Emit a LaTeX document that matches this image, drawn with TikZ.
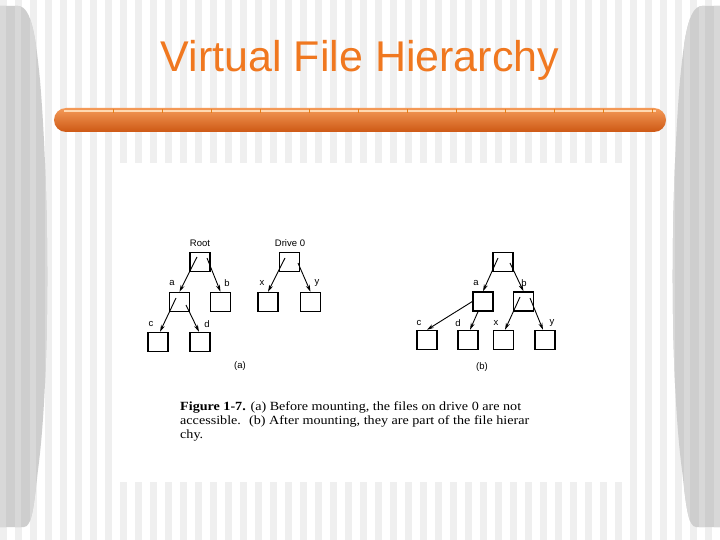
\documentclass[tikz,border=0pt]{standalone}
\usepackage{fontspec}
\setmainfont{Liberation Serif}
\newfontfamily\arialfont{Liberation Sans}
\newfontfamily\capfont[FakeStretch=1.13]{Liberation Serif}
\usepackage{xcolor}
\usepackage{tikz}
\usetikzlibrary{arrows.meta}
\definecolor{slideorange}{RGB}{240,120,32}
\definecolor{stripegray}{RGB}{239,239,239}
\definecolor{bargray}{RGB}{206,206,206}
\definecolor{barlight}{RGB}{216,216,216}
\newcommand{\sidebarpath}{(0,6) -- (18,6) .. controls (32,6) and (36,40) .. (40,80) .. controls (50,200) and (50,380) .. (38,470) .. controls (34,505) and (32,527) .. (24,527) -- (0,527) -- cycle}

\begin{document}
\begin{tikzpicture}[x=1pt, y=-1pt,
    dirbox/.style={draw, line width=1.4pt, minimum width=20pt, minimum height=19pt, inner sep=0pt},
    lbl/.style={font=\arialfont\fontsize{9.5}{10}\selectfont, inner sep=0pt},
    captxt/.style={anchor=base west, inner sep=0pt, font=\capfont\fontsize{12.5}{14}\selectfont},
    ptr/.style={-{Stealth[length=7pt,width=4pt]}, line width=0.9pt}]
    \useasboundingbox (0,0) rectangle (720,540);
    \fill[white] (0,0) rectangle (720,540);
    \foreach \s in {0,...,47}
        \fill[stripegray] (15*\s,0) rectangle (15*\s+7,540);
    \fill[white] (112,163) rectangle (623,482);
    % side bars
    \foreach \sx/\side in {0/1,720/-1} {
        \begin{scope}[shift={(\sx,0)}, xscale=\side]
            \fill[bargray] \sidebarpath;
            \clip \sidebarpath;
            \foreach \s in {0,1,2,3}
                \fill[barlight] (15*\s,0) rectangle (15*\s+6,540);
        \end{scope}
    }
    % title bar
    \shade[top color=slideorange!75!white, middle color=slideorange,
        bottom color={rgb,255:red,205;green,88;blue,20}, rounded corners=12pt] (54,108) rectangle (666,132);
    \draw[white!70!orange, line width=1.2pt] (64,111) -- (656,111);
    \foreach \t in {0,...,11}
        \draw[orange!60!brown, line width=0.4pt] (113+49*\t,109) -- (113+49*\t,113);
    \node[font=\arialfont\fontsize{43}{43}\selectfont, text=slideorange, anchor=base] (title) at (360,72) {Virtual File Hierarchy};

    % (a)
    \foreach \n/\x/\y in {root/200/262, a/179.5/302, b/220.5/302, c/158/342, d/200/342,
                          drive/289.5/262, x/268/302, y/310.5/302}
        \node[dirbox] (\n) at (\x,\y) {};
    \foreach \n/\x/\y/\t in {root/200/243/Root, drive/290/243/Drive 0, a/172/283/a, b/227/283/b,
                             c/151/324/c, d/207/324/d, x/262/283/x, y/317/283/y}
        \node[lbl] (\n-lbl) at (\x,\y) {\t};
    \draw[ptr] ([xshift=-3pt,yshift=5pt]root.center) -- (a.north);
    \draw[ptr] ([xshift=7pt,yshift=4pt]root.center) -- (b.north);
    \draw[ptr] ([xshift=-3.5pt,yshift=4pt]a.center) -- ([xshift=2pt]c.north);
    \draw[ptr] ([xshift=6.5pt,yshift=-3pt]a.center) -- ([xshift=-1pt]d.north);
    \draw[ptr] ([xshift=-4.5pt,yshift=4pt]drive.center) -- (x.north);
    \draw[ptr] ([xshift=8.5pt,yshift=-1pt]drive.center) -- (y.north);
    \node[lbl] (cap-a) at (240,366) {(a)};

    % (b)
    \foreach \n/\x/\y in {top/503/262, ma/483/301.5, mb/523.5/301.5, mc/427/340, md/468/340,
                          mx/503.5/340, my/545/340}
        \node[dirbox] (\n) at (\x,\y) {};
    \foreach \n/\x/\y/\t in {ma/476/283/a, mb/524/283/b, mc/419/323/c, md/458/323/d,
                             mx/496/323/x, my/552/323/y}
        \node[lbl] (\n-lbl) at (\x,\y) {\t};
    \draw[ptr] ([xshift=-5pt,yshift=4pt]top.center) -- (ma.north);
    \draw[ptr] ([xshift=7pt,yshift=-1pt]top.center) -- (mb.north);
    \draw[ptr] (ma.west) -- (mc.north);
    \draw[ptr] ([xshift=-5pt]ma.south) -- ([xshift=2pt]md.north);
    \draw[ptr] ([xshift=-3.5pt,yshift=4.5pt]mb.center) -- ([xshift=1.5pt]mx.north);
    \draw[ptr] ([xshift=6.5pt,yshift=3.5pt]mb.center) -- ([xshift=-2pt]my.north);
    \node[lbl] (cap-b) at (482,367) {(b)};

    \node[captxt] (cap1) at (180,410) {\textbf{Figure 1-7.} (a) Before mounting, the files on drive 0 are not};
    \node[captxt] (cap2) at (180,424) {accessible. \ (b) After mounting, they are part of the file hierar};
    \node[captxt] (cap3) at (180,438) {chy.};
\end{tikzpicture}
\end{document}
